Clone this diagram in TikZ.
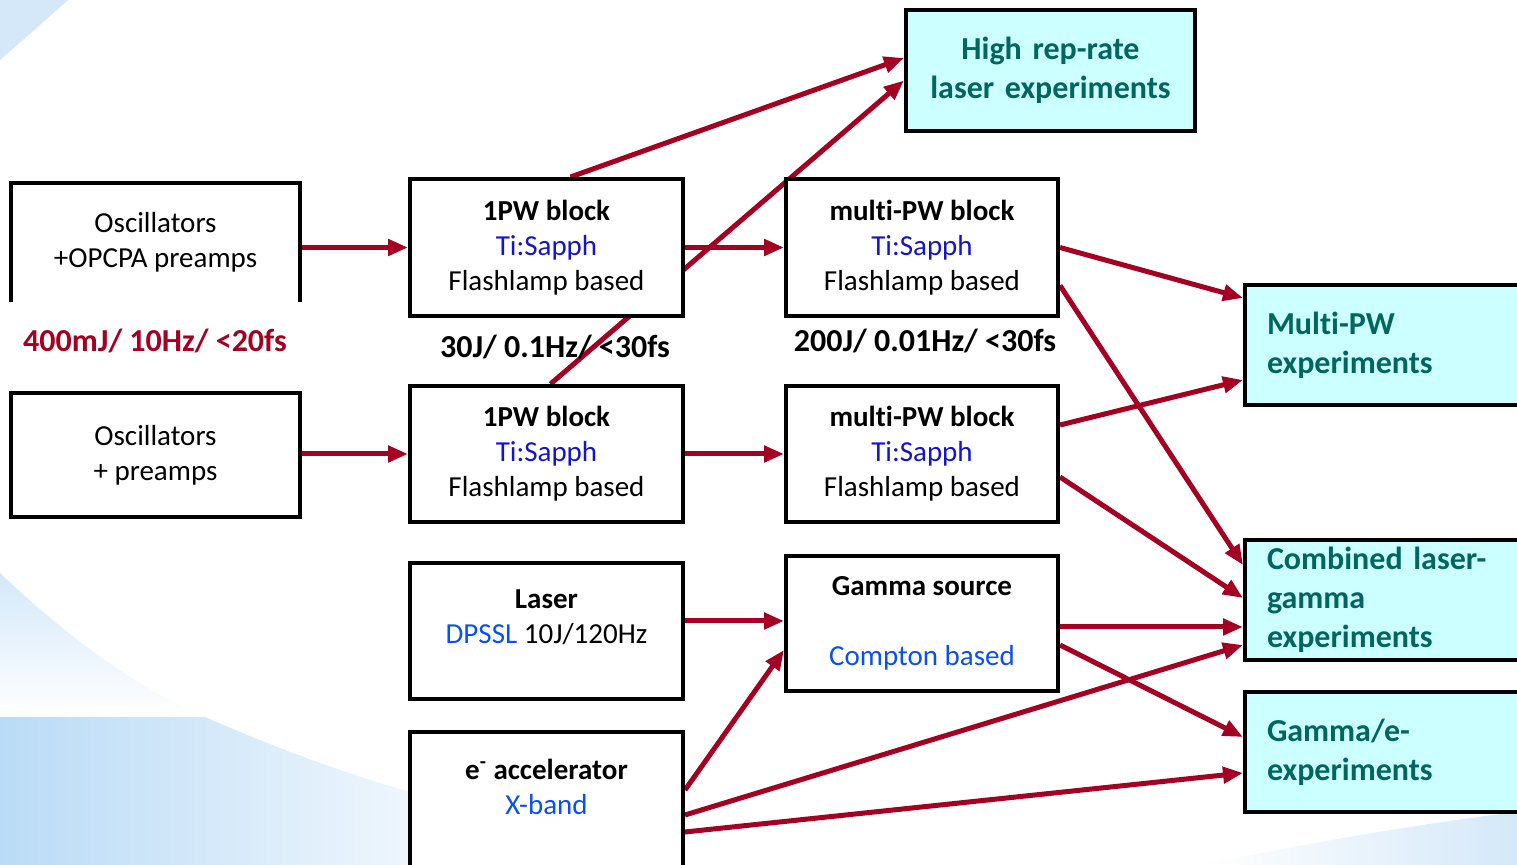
\documentclass[tikz,border=0pt]{standalone}
\usepackage{fontspec}
\setmainfont{Carlito}[Ligatures={NoCommon}]
\usetikzlibrary{calc,backgrounds,arrows.meta}
\definecolor{arrred}{HTML}{A50021}
\definecolor{tealtxt}{HTML}{00665F}
\definecolor{expfill}{HTML}{CCFFFF}
\definecolor{sapph}{HTML}{1414CC}
\definecolor{brblue}{HTML}{0A50F0}
\definecolor{bgblue}{HTML}{D4E8F9}
\definecolor{bgdeep}{HTML}{BADBF6}
\definecolor{bgpale}{HTML}{EEF6FD}
\begin{document}
\begin{tikzpicture}[x=0.5pt, y=-0.5pt,
  blk/.style={draw, line width=2pt, fill=white, align=center, minimum width=136.5pt, minimum height=68.5pt, font=\fontsize{14.5}{17.5}\selectfont},
  expt/.style={draw, line width=2pt, fill=expfill, text=tealtxt, align=left, anchor=west, text width=122pt, inner xsep=11pt, inner ysep=1pt, minimum height=60pt, font=\fontsize{16}{19.5}\selectfont\bfseries},
  arr/.style={arrred, line width=2.5pt, -{Triangle[length=10pt,width=8pt]}},
  spec/.style={font=\fontsize{16}{19}\selectfont\bfseries}]
\useasboundingbox (0,0) rectangle (1517,865);
\clip (0,0) rectangle (1517,865);

\begin{pgfonlayer}{background}
\fill[white] (0,0) rectangle (1517,865);
\fill[bgblue] (0,0) -- (68,0) .. controls (40,25) .. (0,60) -- cycle;
\shade[top color=bgblue, bottom color=white] (0,573) .. controls (60,630) and (130,685) .. (205,717) -- (0,717) -- cycle;
\shade[left color=bgdeep, right color=bgpale] (0,717) -- (205,717) .. controls (280,750) and (350,775) .. (410,792) -- (410,865) -- (0,865) -- cycle;
\shade[left color=white, right color=bgblue] (1200,865) .. controls (1350,835) and (1450,820) .. (1517,812) -- (1517,865) -- cycle;
\end{pgfonlayer}

% sources
\node[blk, draw=none, outer sep=0pt, minimum width=144.5pt, minimum height=59.5pt] (osc1) at (155.5,242.5) {Oscillators\\+OPCPA preamps};
\draw[line width=2pt] (osc1.south west) |- (osc1.north east) -- (osc1.south east);
\node[blk, minimum width=144.5pt, minimum height=62pt] (osc2) at (155.5,455) {Oscillators\\+ preamps};

% amplifier blocks
\node[blk] (pw1) at (546.5,247.5) {\textbf{1PW block}\\\textcolor{sapph}{Ti:Sapph}\\Flashlamp based};
\node[blk, minimum height=68pt] (pw2) at (546.5,454) {\textbf{1PW block}\\\textcolor{sapph}{Ti:Sapph}\\Flashlamp based};
\node[blk, minimum width=136pt] (mpw1) at (922,247.5) {\textbf{multi-PW block}\\\textcolor{sapph}{Ti:Sapph}\\Flashlamp based};
\node[blk, minimum width=136pt, minimum height=68pt] (mpw2) at (922,454) {\textbf{multi-PW block}\\\textcolor{sapph}{Ti:Sapph}\\Flashlamp based};
\node[blk, minimum height=68pt] (laser) at (546.5,631) {\textbf{Laser}\\\textcolor{brblue}{DPSSL} 10J/120Hz\\[-3pt]\mbox{}};
\node[blk, minimum width=136pt, minimum height=67.5pt] (gam) at (922,623.5) {\textbf{Gamma source}\\[17.5pt]\textcolor{brblue}{Compton based}};
\node[blk, minimum height=89.5pt] (eacc) at (546.5,821.5) {\textbf{e\textsuperscript{-} accelerator}\\\textcolor{brblue}{X-band}\\\mbox{}\\\mbox{}};

% experiments
\node[expt, anchor=center, align=center, text width=122.5pt, minimum height=60.5pt] (hrr) at (1050.5,70.5) {High rep-rate\\laser experiments};
\node[expt] (mpwx) at (1243,345) {Multi-PW\\experiments};
\node[expt] (comb) at (1243,600) {Combined laser-\\gamma\\experiments};
\node[expt] (gex) at (1243,752) {Gamma/e-\\experiments};

% beam parameters
\node[spec, text=arrred] (par0) at (155,341) {400mJ/ 10Hz/ <20fs};
\node[spec] (par1) at (555,347) {30J/ 0.1Hz/ <30fs};
\node[spec] (par2) at (925,341) {200J/ 0.01Hz/ <30fs};

\begin{pgfonlayer}{background}
\draw[arr] (osc1.east |- pw1.west) -- (pw1.west);
\draw[arr] (osc2.east |- pw2.west) -- (pw2.west);
\draw[arr] (pw1.east) -- (mpw1.west);
\draw[arr] (pw2.east) -- (mpw2.west);
\draw[arr] ($(laser.east)+(0,-10)$) -- ($(gam.west)+(0,-2.5)$);
\draw[arr] ($(pw1.north)+(24,0)$) -- ($(hrr.west)+(0,-12.5)$);
\draw[arr] ($(pw2.north)+(4,0)$) -- ($(hrr.west)+(0,10)$);
\draw[arr] (mpw1.east) -- ($(mpwx.west)+(0,-47)$);
\draw[arr] ($(mpw1.east)+(0,38)$) -- ($(comb.west)+(0,-35)$);
\draw[arr] ($(mpw2.east)+(0,-29)$) -- ($(mpwx.west)+(0,35)$);
\draw[arr] ($(mpw2.east)+(0,23)$) -- ($(comb.west)+(0,-2)$);
\draw[arr] ($(gam.east)+(0,3.5)$) -- ($(comb.west)+(0,27)$);
\draw[arr] ($(gam.east)+(0,21.5)$) -- ($(gex.west)+(0,-15)$);
\draw[arr] ($(eacc.east)+(0,-31.5)$) -- ($(gam.west)+(0,26.5)$);
\draw[arr] ($(eacc.east)+(0,-6.5)$) -- ($(comb.west)+(0,45)$);
\draw[arr] ($(eacc.east)+(0,10.5)$) -- ($(gex.west)+(0,21)$);
\end{pgfonlayer}
\end{tikzpicture}
\end{document}
